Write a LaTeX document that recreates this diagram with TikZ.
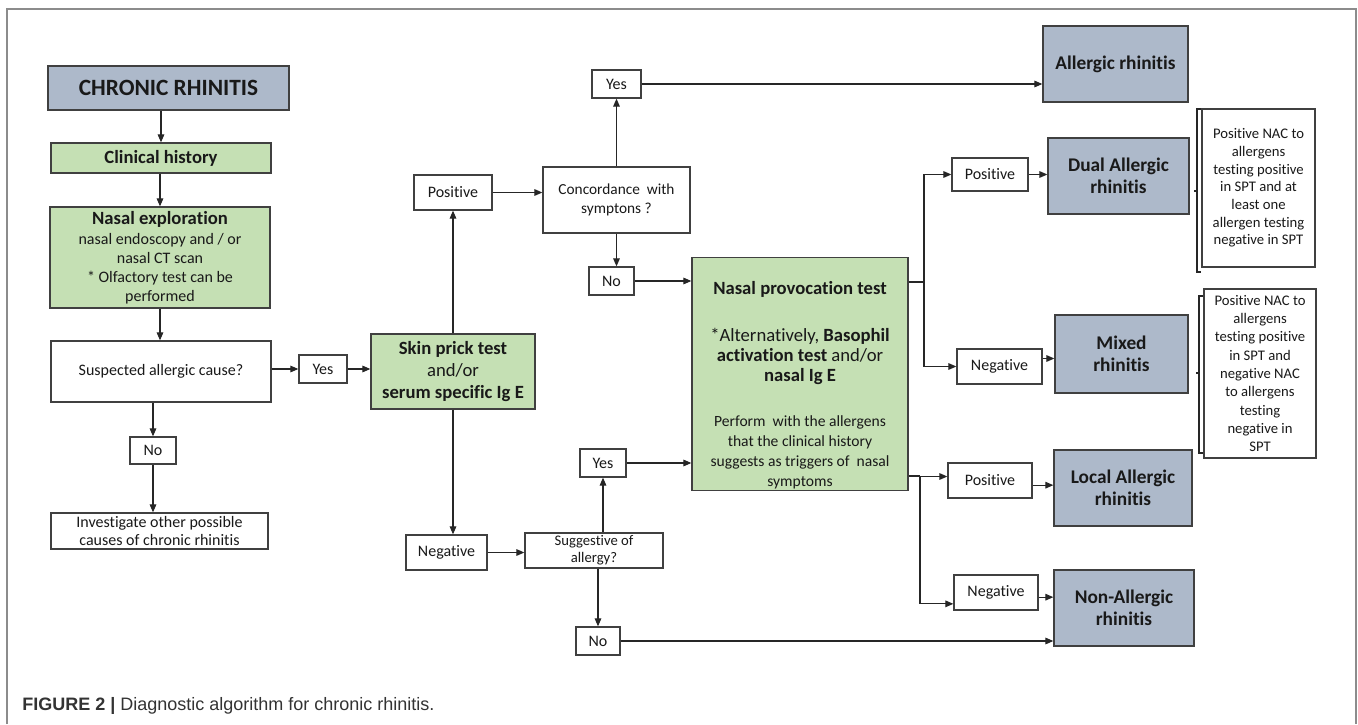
\documentclass[tikz,border=0pt]{standalone}
\usepackage{fontspec}
\setmainfont{Carlito}[Ligatures={NoCommon}]
\newfontfamily\capfont{Liberation Sans}
\usetikzlibrary{arrows.meta,positioning}

\definecolor{bluegrey}{HTML}{ADB9CA}
\definecolor{palegreen}{HTML}{C5E0B4}
\definecolor{boxline}{HTML}{404040}
\definecolor{framegrey}{HTML}{8C8C8C}
\definecolor{captext}{HTML}{333333}

\newcommand{\nptsmall}{\fontsize{11.7}{14.25}\selectfont}

\tikzset{
  box/.style={draw=boxline, line width=1pt, inner sep=1pt, align=center, text=black!90},
  bluebox/.style={box, fill=bluegrey, font=\bfseries\fontsize{14.5}{16.5}\selectfont},
  greenbox/.style={box, fill=palegreen, font=\bfseries\fontsize{14}{16.5}\selectfont},
  plainbox/.style={box, fill=white, font=\fontsize{12}{14.4}\selectfont},
  notebox/.style={box, fill=white, font=\fontsize{11}{13.3}\selectfont},
  arr/.style={-{Triangle[length=6pt,width=5pt]}, line width=0.8pt, black!85},
  link/.style={line width=0.8pt, black!85}
}

\begin{document}
\begin{tikzpicture}[x=0.75pt,y=-0.75pt]

\useasboundingbox (0,0) rectangle (1358,724);

% frame
\draw[framegrey, line width=1.5pt] (7,724) -- (7,9) -- (1356,9) -- (1356,724);

% left column
\node[bluebox, font=\bfseries\fontsize{17.5}{20}\selectfont, minimum width=180.75pt, minimum height=33pt] (chronic) at (168.5,88) {CHRONIC RHINITIS};
\node[greenbox, minimum width=165pt, minimum height=22.5pt] (clin) at (161,158) {Clinical history};
\node[greenbox, font=\fontsize{12}{14.25}\selectfont, minimum width=165pt, minimum height=75.75pt] (nasal) at (160,257.5)
  {\textbf{\fontsize{14}{16}\selectfont Nasal exploration}\\[1pt] nasal endoscopy and / or\\ nasal CT scan\\ * Olfactory test can be\\ performed};
\node[plainbox, minimum width=165pt, minimum height=45.75pt] (susp) at (161,371.5) {Suspected allergic cause?};
\node[plainbox, minimum width=36pt, minimum height=21pt] (yesA) at (323,369) {Yes};
\node[plainbox, minimum width=34.5pt, minimum height=20.25pt] (noA) at (153,450.5) {No};
\node[plainbox, font=\fontsize{12}{13.5}\selectfont, minimum width=162.75pt, minimum height=27pt] (invest) at (159.5,531)
  {Investigate other possible\\ causes of chronic rhinitis};

% skin prick branch
\node[greenbox, font=\fontsize{14}{16.5}\selectfont, minimum width=123pt, minimum height=56.25pt] (skin) at (453,371.5)
  {\textbf{Skin prick test}\\ and/or\\ \textbf{serum specific Ig E}};
\node[plainbox, minimum width=58.5pt, minimum height=26.25pt] (posA) at (453,192.5) {Positive};
\node[plainbox, minimum width=60.75pt, minimum height=26.25pt] (negA) at (446.5,552.5) {Negative};
\node[plainbox, font=\fontsize{11.5}{14}\selectfont, minimum width=110.25pt, minimum height=49.5pt] (conc) at (616.5,200)
  {Concordance\ \ with\\ symptons ?};
\node[plainbox, minimum width=36.75pt, minimum height=21pt] (yesB) at (616.5,84) {Yes};
\node[plainbox, minimum width=33.75pt, minimum height=21pt] (noB) at (611.5,281) {No};
\node[plainbox, font=\fontsize{11}{13}\selectfont, minimum width=103.5pt, minimum height=26.25pt] (sugg) at (594,550.5)
  {Suggestive of\\ allergy?};
\node[plainbox, minimum width=34.5pt, minimum height=21pt] (yesC) at (603,463) {Yes};
\node[plainbox, minimum width=33pt, minimum height=21pt] (noC) at (598,641) {No};

% provocation test
\node[greenbox, font=\fontsize{14}{15}\selectfont, minimum width=162pt, minimum height=174pt] (npt) at (800,374)
  {\rule{0pt}{27pt}\textbf{Nasal provocation test}\\[20pt]
   *Alternatively, \textbf{Basophil}\\ \textbf{activation test} and/or\\ \textbf{nasal Ig E}\\[19pt]
   \nptsmall Perform\ \ with the allergens\\ \nptsmall that the clinical history\\
   \nptsmall suggests as triggers of\ \ nasal\\ \nptsmall symptoms};

% outcomes
\node[bluebox, minimum width=108.75pt, minimum height=57pt] (allerg) at (1115.5,64) {Allergic rhinitis};
\node[plainbox, minimum width=57pt, minimum height=24.75pt] (posB) at (990,174.5) {Positive};
\node[bluebox, minimum width=105.75pt, minimum height=57pt] (dual) at (1118.5,176) {Dual Allergic\\ rhinitis};
\node[plainbox, minimum width=63.75pt, minimum height=26.25pt] (negB) at (999.5,366.5) {Negative};
\node[bluebox, minimum width=99.75pt, minimum height=58.5pt] (mixed) at (1121.5,354) {Mixed\\ rhinitis};
\node[plainbox, minimum width=63pt, minimum height=26.25pt] (posC) at (990,480.5) {Positive};
\node[bluebox, minimum width=103.5pt, minimum height=57pt] (local) at (1123,488) {Local Allergic\\ rhinitis};
\node[plainbox, minimum width=63pt, minimum height=26.25pt] (negC) at (996,592.5) {Negative};
\node[bluebox, minimum width=105pt, minimum height=57pt] (nonal) at (1124,608) {Non-Allergic\\ rhinitis};

% notes
\node[notebox, minimum width=84.75pt, minimum height=118.5pt] (noteA) at (1258.5,188)
  {Positive NAC to\\ allergens\\ testing positive\\ in SPT and at\\ least one\\ allergen testing\\ negative in SPT};
\node[notebox, font=\fontsize{11}{13.7}\selectfont, minimum width=84pt, minimum height=126.75pt] (noteB) at (1260,373.5)
  {Positive NAC to\\ allergens\\ testing positive\\ in SPT and\\ negative NAC\\ to allergens\\ testing\\ negative in\\ SPT};

% brackets
\draw[link] (1201,109) -- (1197,109) -- (1197,272) -- (1201,272);
\draw[link] (1197,191) -- (1194,191);
\draw[link] (1203,296) -- (1199,296) -- (1199,453) -- (1203,453);
\draw[link] (1199,373) -- (1196,373);

% left column arrows
\draw[arr] (clin.north |- chronic.south) -- (clin.north);
\draw[arr] (nasal.north |- clin.south) -- (nasal.north);
\draw[arr] (nasal.south) -- (nasal.south |- susp.north);
\draw[arr] (susp.east |- yesA) -- (yesA.west);
\draw[arr] (yesA.east) -- (yesA.east -| skin.west);
\draw[arr] (noA.north |- susp.south) -- (noA.north);
\draw[arr] (noA.south) -- (noA.south |- invest.north);

% skin prick arrows
\draw[arr] (skin.north) -- (posA.south);
\draw[arr] (skin.south) -- (skin.south |- negA.north);
\draw[arr] (posA.east) -- (posA.east -| conc.west);
\draw[arr] (conc.north) -- (conc.north |- yesB.south);
\draw[arr] (conc.south) -- (conc.south |- noB.north);
\draw[arr] (noB.east) -- (noB.east -| npt.west);
\draw[arr] (yesB.east) -- (yesB.east -| allerg.west);
\draw[arr] (negA.east) -- (negA.east -| sugg.west);
\draw[arr] (yesC.south |- sugg.north) -- (yesC.south);
\draw[arr] (noC.north |- sugg.south) -- (noC.north);
\draw[arr] (yesC.east) -- (yesC.east -| npt.west);
\draw[arr] (noC.east) -- (noC.east -| nonal.west);

% provocation test outcomes
\coordinate (forkA) at (924,282);
\coordinate (forkB) at (920,476);
\draw[link] (npt.east |- forkA) -- (forkA);
\draw[arr] (forkA) |- (posB.west);
\draw[arr] (forkA) |- (negB.west);
\draw[link] (npt.east |- forkB) -- (forkB);
\draw[arr] (forkB) |- ([yshift=3pt]posC.west);
\draw[arr] (forkB) |- ([yshift=-8.5pt]negC.west);
\draw[arr] (posB.east) -- (posB.east -| dual.west);
\draw[arr] ([yshift=6pt]negB.east) -- ([yshift=6pt]negB.east -| mixed.west);
\draw[arr] ([yshift=-3.5pt]posC.east) -- ([yshift=-3.5pt]posC.east -| local.west);
\draw[arr] ([yshift=-3.5pt]negC.east) -- ([yshift=-3.5pt]negC.east -| nonal.west);

% caption
\node[anchor=west, text=captext, font=\capfont\fontsize{13.5}{16}\selectfont, inner sep=0pt] (caption) at (22,706)
  {\textbf{FIGURE 2 |} Diagnostic algorithm for chronic rhinitis.};

\end{tikzpicture}
\end{document}
